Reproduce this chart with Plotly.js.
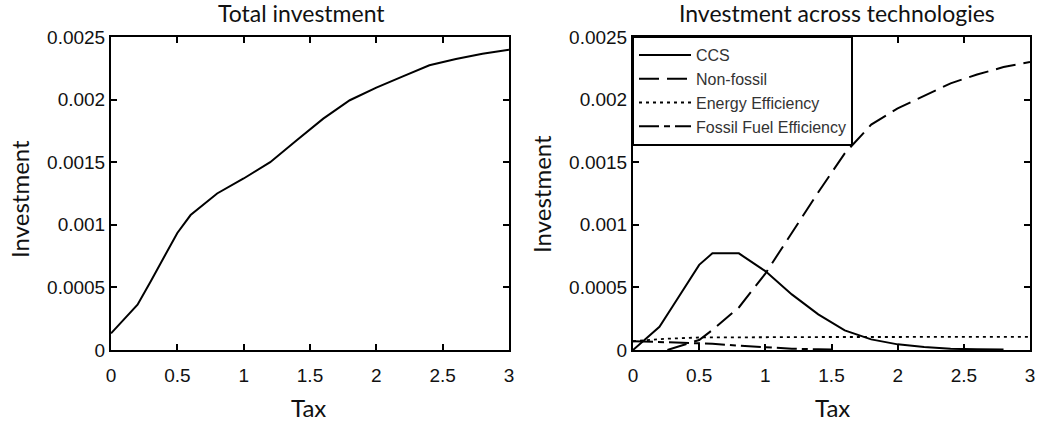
<!DOCTYPE html>
<html>
<head>
<meta charset="utf-8">
<script src="https://cdn.plot.ly/plotly-3.0.1.min.js"></script>
<style>html,body{margin:0;padding:0;background:#fff;}#chart{width:1039px;height:425px;}</style>
</head>
<body>
<div id="chart"></div>
<script>
// Left panel: total investment
const taxTotal = [0, 0.2, 0.3, 0.4, 0.5, 0.6, 0.8, 1.0, 1.2, 1.4, 1.6, 1.8, 2.0, 2.2, 2.4, 2.6, 2.8, 3.0];
const totalInvestment = [0.000133, 0.000362, 0.00055, 0.000745, 0.000935, 0.001078, 0.00125, 0.00137, 0.0015, 0.001676, 0.001848, 0.001995, 0.002096, 0.002186, 0.002274, 0.002324, 0.002367, 0.002399];

// Right panel: investment across technologies
const taxCCS = [0, 0.2, 0.3, 0.4, 0.5, 0.6, 0.8, 1.0, 1.2, 1.4, 1.6, 1.8, 2.0, 2.2, 2.4, 2.6, 2.8];
const ccs = [0, 0.000185, 0.00035, 0.00051, 0.00068, 0.000772, 0.000772, 0.00063, 0.000444, 0.000285, 0.000157, 0.000085, 0.000045, 0.000024, 0.00001, 0.000005, 0.000003];

const taxNonFossil = [0.26, 0.5, 0.6, 0.8, 1.0, 1.2, 1.4, 1.6, 1.8, 2.0, 2.2, 2.4, 2.6, 2.8, 3.0];
const nonFossil = [0, 0.00008, 0.00016, 0.00034, 0.00061, 0.00094, 0.00126, 0.00157, 0.0018, 0.00193, 0.00203, 0.00213, 0.0022, 0.00226, 0.0023];

const taxEnergy = [0, 0.25, 0.5, 1.0, 1.5, 2.0, 2.5, 3.0];
const energyEfficiency = [0.00007, 0.00009, 0.0001, 0.000104, 0.000104, 0.000104, 0.000105, 0.000105];

const taxFossilEff = [0, 0.2, 0.4, 0.6, 0.8, 1.0, 1.2, 1.4, 1.5];
const fossilFuelEfficiency = [0.00007, 0.000065, 0.00006, 0.00005, 0.000035, 0.00002, 0.00001, 0.000005, 0.000003];

const xTicks = [0, 0.5, 1, 1.5, 2, 2.5, 3];
const xTickText = ['0', '0.5', '1', '1.5', '2', '2.5', '3'];
const yTicks = [0, 0.0005, 0.001, 0.0015, 0.002, 0.0025];
const yTickText = ['0', '0.0005', '0.001', '0.0015', '0.002', '0.0025'];

const W = 1039, H = 425;
const px = v => v / W, py = v => 1 - v / H;

const lineBase = {color: '#000', width: 2};
const traces = [
  {x: taxTotal, y: totalInvestment, mode: 'lines', line: Object.assign({}, lineBase), xaxis: 'x', yaxis: 'y', showlegend: false, name: 'Total'},
  {x: taxCCS, y: ccs, mode: 'lines', name: 'CCS', line: Object.assign({dash: 'solid'}, lineBase), xaxis: 'x2', yaxis: 'y2'},
  {x: taxNonFossil, y: nonFossil, mode: 'lines', name: 'Non-fossil', line: Object.assign({dash: '20px,8px'}, lineBase), xaxis: 'x2', yaxis: 'y2'},
  {x: taxEnergy, y: energyEfficiency, mode: 'lines', name: 'Energy Efficiency', line: {color: '#000', width: 1.8, dash: '3px,4px'}, xaxis: 'x2', yaxis: 'y2'},
  {x: taxFossilEff, y: fossilFuelEfficiency, mode: 'lines', name: 'Fossil Fuel Efficiency', line: Object.assign({dash: '20px,5px,6px,5px'}, lineBase), xaxis: 'x2', yaxis: 'y2'}
];

const tickFont = {family: '"Liberation Sans", Arial, sans-serif', size: 19, color: '#111'};
function xAx(domain) {
  return {domain: domain, range: [0, 3], tickvals: xTicks, ticktext: xTickText, ticks: 'inside', ticklen: 6, tickwidth: 2, tickcolor: '#000',
    showline: true, linecolor: '#000', linewidth: 2, mirror: 'allticks', showgrid: false, zeroline: false, tickfont: tickFont,
    ticklabelstandoff: 7, fixedrange: true};
}
function yAx(domain, anchor) {
  return {domain: domain, range: [0, 0.0025], tickvals: yTicks, ticktext: yTickText, ticks: 'inside', ticklen: 6, tickwidth: 2, tickcolor: '#000',
    showline: true, linecolor: '#000', linewidth: 2, mirror: 'allticks', showgrid: false, zeroline: false, tickfont: tickFont, anchor: anchor, fixedrange: true};
}

const yDom = [py(350), py(37)];
const titleFont = {family: 'Lato, "Open Sans", sans-serif', size: 23, color: '#111'};
const axTitleFont = {family: 'Lato, "Open Sans", sans-serif', size: 24, color: '#111'};

const layout = {
  width: W, height: H,
  margin: {l: 0, r: 0, t: 0, b: 0},
  paper_bgcolor: '#fff', plot_bgcolor: '#fff',
  xaxis: Object.assign(xAx([px(111), px(509)]), {anchor: 'y'}),
  yaxis: yAx(yDom, 'x'),
  xaxis2: Object.assign(xAx([px(633), px(1030)]), {anchor: 'y2'}),
  yaxis2: yAx(yDom, 'x2'),
  showlegend: true,
  legend: {x: px(632), y: py(36), xanchor: 'left', yanchor: 'top', bgcolor: '#fff', bordercolor: '#000', borderwidth: 2,
    font: {family: '"Liberation Sans", Arial, sans-serif', size: 16, color: '#333'}, itemwidth: 52, tracegroupgap: 0},
  annotations: [
    {text: 'Total investment', xref: 'paper', yref: 'paper', x: px(301), y: py(13), xanchor: 'center', yanchor: 'middle', showarrow: false, font: titleFont},
    {text: 'Investment across technologies', xref: 'paper', yref: 'paper', x: px(837), y: py(13), xanchor: 'center', yanchor: 'middle', showarrow: false, font: titleFont},
    {text: 'Investment', xref: 'paper', yref: 'paper', x: px(19), y: py(199), xanchor: 'center', yanchor: 'middle', textangle: -90, showarrow: false, font: axTitleFont},
    {text: 'Investment', xref: 'paper', yref: 'paper', x: px(541), y: py(194), xanchor: 'center', yanchor: 'middle', textangle: -90, showarrow: false, font: axTitleFont},
    {text: 'Tax', xref: 'paper', yref: 'paper', x: px(308), y: py(407), xanchor: 'center', yanchor: 'middle', showarrow: false, font: axTitleFont},
    {text: 'Tax', xref: 'paper', yref: 'paper', x: px(832), y: py(407), xanchor: 'center', yanchor: 'middle', showarrow: false, font: axTitleFont}
  ]
};

Plotly.newPlot('chart', traces, layout, {displayModeBar: false, staticPlot: true});
</script>
</body>
</html>
